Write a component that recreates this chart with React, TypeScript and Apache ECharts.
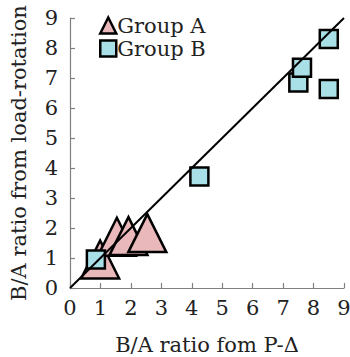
import React, { useEffect, useRef } from "react";
import * as echarts from "echarts";

const groupA: number[][] = [
  [0.99, 0.95],
  [1.54, 1.71],
  [1.92, 1.73],
  [2.54, 1.83],
];
const groupB: number[][] = [
  [0.85, 0.95],
  [4.25, 3.72],
  [7.5, 6.85],
  [7.62, 7.34],
  [8.5, 6.63],
  [8.5, 8.3],
];
const refLine: number[][] = [
  [0, 0],
  [9, 9],
];
const xName = "B/A ratio fom P-Δ";
const yName = "B/A ratio from load-rotation";

const FONT = "DejaVu Serif";

export default function App() {
  const ref = useRef<HTMLDivElement>(null);
  useEffect(() => {
    if (!ref.current) return;
    const chart = echarts.init(ref.current, undefined, { renderer: "svg" });
    const lbl = { fontFamily: FONT, fontSize: 21, color: "#222" };
    const nameLbl = { fontFamily: FONT, fontSize: 21, color: "#222" };
    chart.setOption({
      animation: false,
      textStyle: { fontFamily: FONT },
      grid: { left: 70, right: 6, top: 18, bottom: 69, containLabel: false, outerBoundsMode: "none" },
      legend: {
        orient: "vertical",
        left: 94,
        top: 10,
        itemWidth: 16,
        itemHeight: 16,
        itemGap: 2,
        textStyle: { fontFamily: FONT, fontSize: 21, color: "#222", padding: [0, 0, 0, -4] },
        data: [
          { name: "Group A", icon: "triangle", itemStyle: { color: "#e9b8ba", borderColor: "#000", borderWidth: 2.5 } },
          { name: "Group B", icon: "rect", itemStyle: { color: "#a9dfe6", borderColor: "#000", borderWidth: 2.5 } },
        ],
      },
      xAxis: {
        type: "value",
        min: 0,
        max: 9,
        interval: 1,
        name: xName,
        nameLocation: "middle",
        nameGap: 46,
        nameTextStyle: nameLbl,
        axisLine: { show: true, lineStyle: { color: "#808080", width: 1.2 } },
        axisTick: { show: true, inside: true, length: 5, lineStyle: { color: "#808080", width: 1.2 } },
        axisLabel: { ...lbl, margin: 9 },
        splitLine: { show: false },
      },
      yAxis: {
        type: "value",
        min: 0,
        max: 9,
        interval: 1,
        name: yName,
        nameLocation: "middle",
        nameGap: 41,
        nameTextStyle: nameLbl,
        axisLine: { show: true, lineStyle: { color: "#808080", width: 1.2 } },
        axisTick: { show: true, inside: true, length: 5, lineStyle: { color: "#808080", width: 1.2 } },
        axisLabel: { ...lbl, margin: 12 },
        splitLine: { show: false },
      },
      series: [
        {
          name: "Group A",
          type: "scatter",
          symbol: "triangle",
          symbolSize: 38,
          data: groupA,
          itemStyle: { color: "#e9b8ba", borderColor: "#000", borderWidth: 2.5, opacity: 1 },
          z: 2,
        },
        {
          name: "Group B",
          type: "scatter",
          symbol: "rect",
          symbolSize: 18,
          data: groupB,
          itemStyle: { color: "#a9dfe6", borderColor: "#000", borderWidth: 2.5, opacity: 1 },
          z: 3,
        },
        {
          name: "ref",
          type: "line",
          data: refLine,
          symbol: "none",
          lineStyle: { color: "#000", width: 2 },
          z: 4,
        },
      ],
    });
    return () => chart.dispose();
  }, []);
  return <div ref={ref} style={{ width: 350, height: 357, position: "absolute", left: 0, top: 0 }} />;
}
